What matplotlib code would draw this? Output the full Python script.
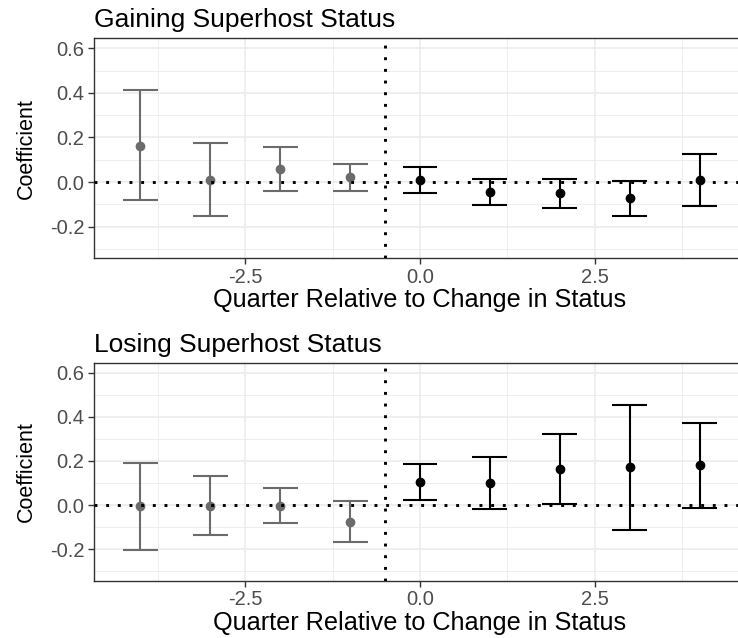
import numpy as np
import matplotlib
matplotlib.use('Agg')
import matplotlib.pyplot as plt
from matplotlib.ticker import MultipleLocator, FixedLocator

plt.rcParams['font.family'] = ['Liberation Sans', 'DejaVu Sans']

quarters = np.array([-4, -3, -2, -1, 0, 1, 2, 3, 4])

# gaining superhost status
gain_coef = [0.164, 0.010, 0.060, 0.021, 0.009, -0.045, -0.051, -0.073, 0.009]
gain_hi = [0.411, 0.175, 0.158, 0.081, 0.067, 0.013, 0.013, 0.004, 0.126]
gain_lo = [-0.081, -0.154, -0.039, -0.039, -0.047, -0.105, -0.117, -0.154, -0.109]

# losing superhost status
lose_coef = [-0.002, -0.005, -0.002, -0.075, 0.105, 0.099, 0.163, 0.173, 0.181]
lose_hi = [0.193, 0.130, 0.078, 0.018, 0.187, 0.216, 0.320, 0.455, 0.373]
lose_lo = [-0.202, -0.135, -0.083, -0.169, 0.024, -0.018, 0.004, -0.111, -0.011]

titles = ['Gaining Superhost Status', 'Losing Superhost Status']

pre_col = '#6b6b6b'
post_col = '#000000'
grid_col = '#ebebeb'

fig = plt.figure(figsize=(7.38, 6.38), dpi=100)
ax_top = fig.add_axes([94/738, 1 - 258.3/638, 652/738, 220/638])
ax_bot = fig.add_axes([94/738, 1 - 580.7/638, 652/738, 218/638])

def panel(ax, coef, hi, lo, title):
    coef = np.array(coef); hi = np.array(hi); lo = np.array(lo)
    for q, c, h, l in zip(quarters, coef, hi, lo):
        col = pre_col if q < 0 else post_col
        ax.vlines(q, l, h, color=col, lw=1.5, zorder=3)
        ax.hlines([l, h], q - 0.25, q + 0.25, color=col, lw=1.5, zorder=3)
        ax.plot(q, c, 'o', color=col, ms=6, zorder=4)
    ax.axhline(0, color='black', lw=2.1, linestyle=(0, (1, 3)), zorder=5)
    ax.axvline(-0.5, color='black', lw=2.1, linestyle=(0, (1, 3)), zorder=5)

    ax.set_xlim(-4.66, 4.66)
    ax.set_ylim(-0.342, 0.645)
    ax.xaxis.set_major_locator(FixedLocator([-2.5, 0.0, 2.5]))
    ax.xaxis.set_minor_locator(FixedLocator([-3.75, -1.25, 1.25, 3.75]))
    ax.yaxis.set_major_locator(MultipleLocator(0.2))
    ax.yaxis.set_minor_locator(FixedLocator([-0.3, -0.1, 0.1, 0.3, 0.5]))
    ax.xaxis.set_major_formatter(lambda v, p: f'{v:.1f}')
    ax.yaxis.set_major_formatter(lambda v, p: f'{v:.1f}')
    ax.grid(which='major', color=grid_col, lw=1.1, zorder=0)
    ax.grid(which='minor', color=grid_col, lw=0.6, zorder=0)
    ax.set_axisbelow(True)
    ax.tick_params(which='major', length=4, width=1, color='#333333',
                   labelcolor='#4d4d4d', labelsize=14.5, pad=3)
    ax.tick_params(which='minor', length=0)
    for s in ax.spines.values():
        s.set_color('#333333')
        s.set_linewidth(1)
    ax.set_xlabel('Quarter Relative to Change in Status', fontsize=18.2, labelpad=1)
    ax.set_ylabel('Coefficient', fontsize=15.5, labelpad=9)
    ax.set_title(title, loc='left', fontsize=19, pad=8)

panel(ax_top, gain_coef, gain_hi, gain_lo, titles[0])
panel(ax_bot, lose_coef, lose_hi, lose_lo, titles[1])

fig.savefig('out.png', dpi=100)
